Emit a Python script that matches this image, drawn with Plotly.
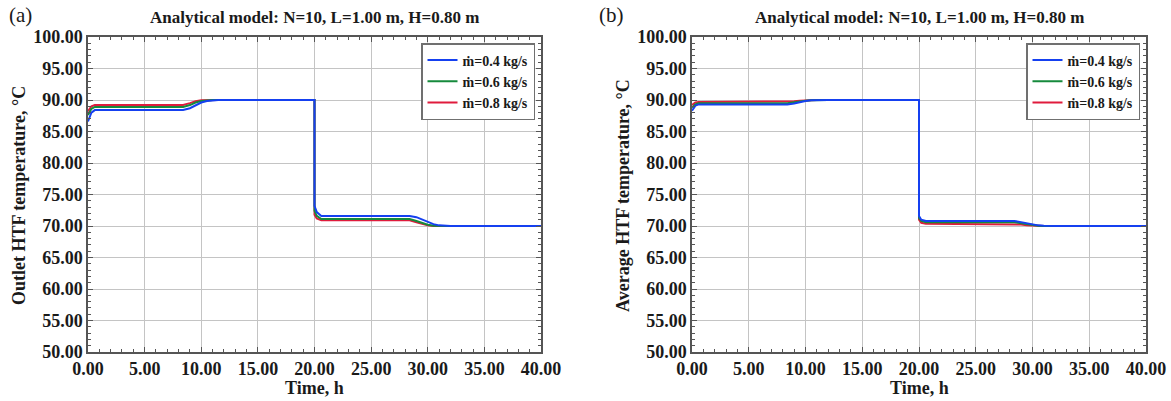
import plotly.graph_objects as go

time_h = [0.0, 0.3, 0.6, 8.4, 9.0, 9.5, 10.0, 10.5, 11.0, 11.5, 12.0, 20.0,
          20.0, 20.2, 20.6, 28.4, 29.0, 29.5, 30.0, 30.5, 31.0, 31.5, 32.0, 40.0]

outlet_04 = [86.6, 88.0, 88.4, 88.4, 88.7, 89.2, 89.6, 89.85, 89.95, 90.0, 90.0, 90.0,
             73.2, 72.2, 71.6, 71.6, 71.4, 71.0, 70.6, 70.3, 70.1, 70.02, 70.0, 70.0]
outlet_06 = [87.6, 88.6, 88.9, 88.9, 89.2, 89.6, 89.85, 89.95, 90.0, 90.0, 90.0, 90.0,
             72.4, 71.6, 71.1, 71.1, 70.8, 70.5, 70.2, 70.05, 70.0, 70.0, 70.0, 70.0]
outlet_08 = [88.2, 89.0, 89.2, 89.2, 89.5, 89.8, 89.95, 90.0, 90.0, 90.0, 90.0, 90.0,
             71.8, 71.2, 70.9, 70.9, 70.6, 70.3, 70.1, 70.0, 70.0, 70.0, 70.0, 70.0]

average_04 = [88.3, 89.1, 89.3, 89.3, 89.45, 89.7, 89.85, 89.95, 90.0, 90.0, 90.0, 90.0,
              71.6, 71.0, 70.8, 70.8, 70.6, 70.4, 70.2, 70.1, 70.03, 70.0, 70.0, 70.0]
average_06 = [88.8, 89.3, 89.5, 89.5, 89.65, 89.8, 89.9, 89.97, 90.0, 90.0, 90.0, 90.0,
              71.3, 70.8, 70.6, 70.6, 70.45, 70.25, 70.1, 70.03, 70.0, 70.0, 70.0, 70.0]
average_08 = [89.2, 89.6, 89.7, 89.7, 89.8, 89.9, 89.97, 90.0, 90.0, 90.0, 90.0, 90.0,
              71.0, 70.5, 70.35, 70.35, 70.25, 70.1, 70.03, 70.0, 70.0, 70.0, 70.0, 70.0]

series_names = ["ṁ=0.4 kg/s", "ṁ=0.6 kg/s", "ṁ=0.8 kg/s"]
colors = ["#1540f0", "#168a3c", "#e01b3c"]

panel_labels = ["(a)", "(b)"]
panel_title = "Analytical model: N=10, L=1.00 m, H=0.80 m"
y_titles = ["Outlet HTF temperature, °C", "Average HTF temperature, °C"]
x_title = "Time, h"

W, H = 1171, 401
FONT = "Liberation Serif, Times New Roman, serif"
TXT = "#1a1a1a"

fig = go.Figure()

panels = [(outlet_04, outlet_06, outlet_08), (average_04, average_06, average_08)]
for p, vals in enumerate(panels):
    xa = "x" if p == 0 else "x2"
    ya = "y" if p == 0 else "y2"
    lg = "legend" if p == 0 else "legend2"
    # draw red, green, blue so blue is on top
    for i in [2, 1, 0]:
        fig.add_trace(go.Scatter(
            x=time_h, y=vals[i], mode="lines", name="<b>" + series_names[i] + "</b>",
            line=dict(color=colors[i], width=2),
            xaxis=xa, yaxis=ya, legend=lg, showlegend=True,
        ))

x_domains = [[88 / W, 541 / W], [692 / W, 1146 / W]]
y_domain = [1 - 352 / H, 1 - 37 / H]

axis_common = dict(
    showline=True, linecolor="#555555", linewidth=1.5, mirror="allticks",
    showgrid=True, gridcolor="#c4c4c4", gridwidth=1,
    ticks="inside", ticklen=5, tickcolor="#555555",
    minor=dict(ticks="inside", ticklen=3, dtick=1, tickcolor="#555555", showgrid=False),
    tickfont=dict(family=FONT, size=18, color=TXT, weight="bold"),
    zeroline=False, automargin=False,
)

fig.update_layout(
    xaxis=dict(domain=x_domains[0], range=[0, 40], dtick=5, tickformat=".2f",
               anchor="y", **axis_common),
    yaxis=dict(domain=y_domain, range=[50, 100], dtick=5, tickformat=".2f",
               anchor="x", **axis_common),
    xaxis2=dict(domain=x_domains[1], range=[0, 40], dtick=5, tickformat=".2f",
                anchor="y2", **axis_common),
    yaxis2=dict(domain=y_domain, range=[50, 100], dtick=5, tickformat=".2f",
                anchor="x2", **axis_common),
)

legend_common = dict(
    xanchor="right", yanchor="top", y=1 - 43 / H,
    bgcolor="white", bordercolor="#707070", borderwidth=1.5,
    font=dict(family=FONT, size=14, color=TXT),
    traceorder="reversed", itemwidth=30, tracegroupgap=0,
)
fig.update_layout(
    legend=dict(x=535 / W, **legend_common),
    legend2=dict(x=1140 / W, **legend_common),
)

annotations = []
for p in range(2):
    x0, x1 = x_domains[p]
    cx = (x0 + x1) / 2
    annotations.append(dict(
        text="<b>" + panel_title + "</b>", x=cx, y=1 - 18 / H, xref="paper", yref="paper",
        xanchor="center", yanchor="middle", showarrow=False,
        font=dict(family=FONT, size=17, color=TXT),
    ))
    annotations.append(dict(
        text=panel_labels[p], x=(7 if p == 0 else 597) / W, y=1 - 15 / H,
        xref="paper", yref="paper", xanchor="left", yanchor="middle",
        showarrow=False, font=dict(family=FONT, size=21, color=TXT),
    ))
    annotations.append(dict(
        text="<b>" + x_title + "</b>", x=cx, y=1 - 388 / H, xref="paper", yref="paper",
        xanchor="center", yanchor="middle", showarrow=False,
        font=dict(family=FONT, size=18, color=TXT),
    ))
    annotations.append(dict(
        text="<b>" + y_titles[p] + "</b>", x=(19 if p == 0 else 623) / W, y=1 - 196 / H,
        xref="paper", yref="paper", xanchor="center", yanchor="middle",
        textangle=-90, showarrow=False,
        font=dict(family=FONT, size=18, color=TXT),
    ))

fig.update_layout(
    annotations=annotations,
    width=W, height=H,
    margin=dict(l=0, r=0, t=0, b=0),
    paper_bgcolor="white", plot_bgcolor="white",
    showlegend=True,
)

fig.write_html("out.html")
